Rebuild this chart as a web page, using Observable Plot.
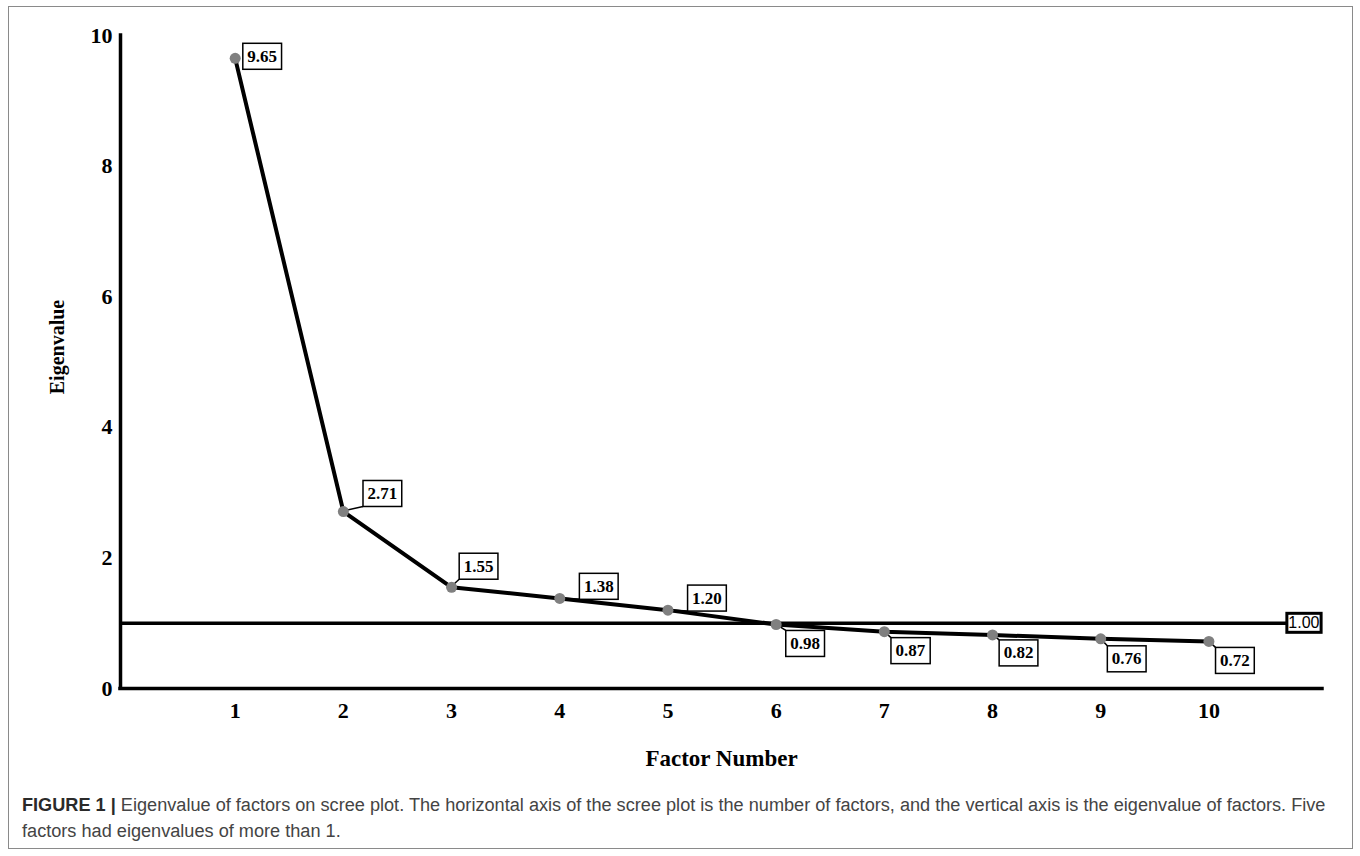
<!DOCTYPE html>
<html><head><meta charset="utf-8">
<script src="https://cdn.jsdelivr.net/npm/d3@7"></script>
<script src="https://cdn.jsdelivr.net/npm/@observablehq/plot@0.6"></script>
<style>
body{margin:0;background:#fff;width:1360px;height:856px;position:relative;overflow:hidden}
#frame{position:absolute;left:8px;top:6px;width:1345px;height:843px;border:1.5px solid #8a8a8a;box-sizing:border-box}
#chart{position:absolute;left:0;top:0}
#caption{position:absolute;left:22px;top:792px;font-family:"Liberation Sans",Arial,sans-serif;font-size:18.15px;line-height:26px;color:#444;white-space:nowrap}
#caption b{color:#2a2a2a}
</style></head><body>
<div id="frame"></div>
<div id="chart"></div>
<div id="caption"><b>FIGURE 1 |</b> Eigenvalue of factors on scree plot. The horizontal axis of the scree plot is the number of factors, and the vertical axis is the eigenvalue of factors. Five<br>factors had eigenvalues of more than 1.</div>
<script>
// ---- data ----
const factors = [1, 2, 3, 4, 5, 6, 7, 8, 9, 10];
const eigenvalues = [9.65, 2.71, 1.55, 1.38, 1.20, 0.98, 0.87, 0.82, 0.76, 0.72];
const valueLabels = ["9.65", "2.71", "1.55", "1.38", "1.20", "0.98", "0.87", "0.82", "0.76", "0.72"];
const threshold = 1;
const thresholdLabel = "1.00";
const xTicks = [1, 2, 3, 4, 5, 6, 7, 8, 9, 10];
const yTicks = [0, 2, 4, 6, 8, 10];
const xTitle = "Factor Number";
const yTitle = "Eigenvalue";

// ---- styling (label nudges in px) ----
const nudge = [[27, -2], [39, -18], [27, -21], [39, -12], [39, -12], [29, 19], [26, 19], [26, 18], [26, 20], [26, 19]];
const xDomain = [-0.06, 11.05];
const serif = "'Liberation Serif', 'Times New Roman', serif";

const data = factors.map((f, i) => ({factor: f, value: eigenvalues[i], label: valueLabels[i]}));

const labelMarks = data.map((d, i) => Plot.text([d], {
  x: "factor", y: "value", text: "label",
  dx: nudge[i][0], dy: nudge[i][1],
  fontSize: 17, fontWeight: "bold", fontFamily: serif, fill: "black",
  textAnchor: "middle", lineAnchor: "middle",
  ariaDescription: "eig-label"
}));

const plot = Plot.plot({
  width: 1360, height: 780,
  marginLeft: 120, marginRight: 38, marginTop: 35, marginBottom: 92,
  style: {fontFamily: serif, fontSize: "22px", fontWeight: "bold", color: "black", background: "transparent"},
  x: {domain: xDomain},
  y: {domain: [0, 10]},
  marks: [
    Plot.ruleY([threshold], {stroke: "black", strokeWidth: 3.5}),
    Plot.ruleY([0], {stroke: "black", strokeWidth: 3.5, strokeLinecap: "square"}),
    Plot.ruleX([xDomain[0]], {stroke: "black", strokeWidth: 3.5, strokeLinecap: "square"}),
    Plot.line(data, {x: "factor", y: "value", stroke: "black", strokeWidth: 4, ariaDescription: "scree-line"}),
    Plot.dot(data, {x: "factor", y: "value", r: 5.5, fill: "#808080", stroke: "none", ariaDescription: "scree-dots"}),
    ...labelMarks,
    Plot.text([thresholdLabel], {
      x: xDomain[1], y: threshold, dx: -3,
      textAnchor: "end", lineAnchor: "middle",
      fontFamily: "'Liberation Sans', Arial, sans-serif", fontWeight: "normal", fontSize: 16, fill: "black",
      ariaDescription: "thr-label"
    }),
    Plot.axisX({ticks: xTicks, tickSize: 0, tickPadding: 14, label: null, tickFormat: d => String(d)}),
    Plot.axisY({ticks: yTicks, tickSize: 0, tickPadding: 8, label: null, tickFormat: d => String(d)}),
    Plot.text([xTitle], {frameAnchor: "bottom", dy: 70, lineAnchor: "middle", fontSize: 23, fontWeight: "bold", fontFamily: serif}),
    Plot.text([yTitle], {frameAnchor: "left", dx: -63, dy: -15, rotate: -90, lineAnchor: "middle", textAnchor: "middle", fontSize: 20, fontWeight: "bold", fontFamily: serif})
  ]
});

document.getElementById("chart").append(plot);

// ---- boxes around labels + leader lines ----
const ns = "http://www.w3.org/2000/svg";
const svgRect = plot.getBoundingClientRect();
const xs = plot.scale("x"), ys = plot.scale("y");

const boxGroup = document.createElementNS(ns, "g");
const leaderGroup = document.createElementNS(ns, "g");
const firstLabel = plot.querySelector('g[aria-description="eig-label"]');
const dotGroup = plot.querySelector('g[aria-description="scree-dots"]');
plot.insertBefore(boxGroup, firstLabel);
plot.insertBefore(leaderGroup, dotGroup);

function addBox(textEl, padX, padY, sw) {
  const r = textEl.getBoundingClientRect();
  const x0 = r.left - svgRect.left - padX, y0 = r.top - svgRect.top - padY;
  const w = r.width + 2 * padX, h = r.height + 2 * padY;
  const rect = document.createElementNS(ns, "rect");
  rect.setAttribute("x", x0); rect.setAttribute("y", y0);
  rect.setAttribute("width", w); rect.setAttribute("height", h);
  rect.setAttribute("fill", "white"); rect.setAttribute("stroke", "black");
  rect.setAttribute("stroke-width", sw);
  boxGroup.appendChild(rect);
  return {x0, y0, w, h};
}

plot.querySelectorAll('g[aria-description="eig-label"]').forEach((g, i) => {
  const t = g.querySelector("text");
  const b = addBox(t, 4.5, 3.5, 1.5);
  const d = data[i];
  const px = xs.apply(d.factor), py = ys.apply(d.value);
  if (Math.abs(nudge[i][1]) > 5) {
    const cx = b.x0, cy = nudge[i][1] < 0 ? b.y0 + b.h : b.y0;
    const ln = document.createElementNS(ns, "line");
    ln.setAttribute("x1", px); ln.setAttribute("y1", py);
    ln.setAttribute("x2", cx); ln.setAttribute("y2", cy);
    ln.setAttribute("stroke", "black"); ln.setAttribute("stroke-width", 1.5);
    leaderGroup.appendChild(ln);
  }
});
const thr = plot.querySelector('g[aria-description="thr-label"] text');
addBox(thr, 1.5, 1, 3);
</script>
</body></html>
